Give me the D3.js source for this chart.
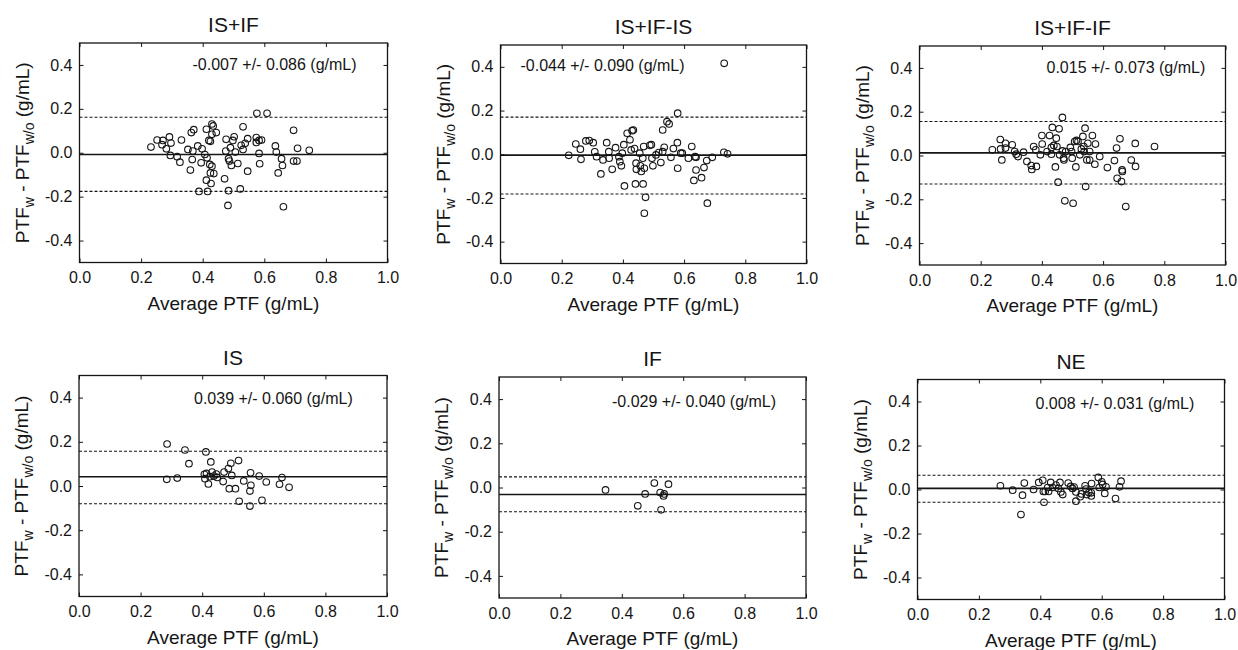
<!DOCTYPE html>
<html>
<head>
<meta charset="utf-8">
<script src="https://cdn.jsdelivr.net/npm/d3@7"></script>
<style>
  body { margin: 0; background: #fff; }
  svg { display: block; font-family: "Liberation Sans", Arial, sans-serif; }
</style>
</head>
<body>
<svg id="chart" width="1238" height="650"></svg>
<script>
// panel titles and the mean +/- sd labels printed inside each panel
const titles = ['IS+IF', 'IS+IF-IS', 'IS+IF-IF', 'IS', 'IF', 'NE']
const notes = [
    '-0.007 +/- 0.086 (g/mL)',
    '-0.044 +/- 0.090 (g/mL)',
    '0.015 +/- 0.073 (g/mL)',
    '0.039 +/- 0.060 (g/mL)',
    '-0.029 +/- 0.040 (g/mL)',
    '0.008 +/- 0.031 (g/mL)',
]

// bias line and limits of agreement, as drawn
const meanLine = [-0.008, -0.004, 0.012, 0.042, -0.032, 0.005]
const upperLimit = [0.162, 0.17, 0.155, 0.157, 0.048, 0.065]
const lowerLimit = [-0.176, -0.182, -0.13, -0.08, -0.11, -0.058]

const xTicks = [0, 0.2, 0.4, 0.6, 0.8, 1.0]
const yTicks = [-0.4, -0.2, 0, 0.2, 0.4]

// [average PTF, difference] pairs
const ptsISIF = [
    [0.232, 0.026], [0.252, 0.058], [0.271, 0.056], [0.268, 0.037], [0.282, 0.018],
    [0.292, 0.072], [0.297, 0.044], [0.295, -0.012], [0.317, -0.018], [0.326, -0.043],
    [0.331, 0.058], [0.352, 0.015], [0.36, -0.079], [0.366, -0.031], [0.363, 0.092],
    [0.371, 0.105], [0.368, 0.008], [0.384, 0.031], [0.388, -0.176], [0.395, -0.046],
    [0.398, 0.018], [0.407, -0.008], [0.412, 0.107], [0.412, -0.125], [0.416, -0.176],
    [0.42, 0.056], [0.425, 0.052], [0.414, -0.023], [0.423, -0.053], [0.427, -0.14],
    [0.43, 0.131], [0.434, 0.122], [0.43, 0.084], [0.425, -0.092], [0.436, -0.095],
    [0.43, -0.061], [0.444, 0.092], [0.471, -0.119], [0.476, 0.061], [0.475, 0.008],
    [0.482, -0.24], [0.484, -0.173], [0.484, -0.027], [0.49, 0.023], [0.487, -0.038],
    [0.493, -0.058], [0.498, 0.056], [0.502, 0.073], [0.506, 0.003], [0.514, -0.049],
    [0.522, -0.165], [0.525, 0.034], [0.531, 0.118], [0.531, 0.015], [0.538, 0.043],
    [0.546, 0.064], [0.546, -0.084], [0.576, 0.18], [0.609, 0.18], [0.574, 0.069],
    [0.574, 0.047], [0.583, 0.056], [0.591, 0.058], [0.583, -0.003], [0.585, -0.05],
    [0.636, 0.031], [0.639, 0.003], [0.645, -0.092], [0.656, -0.027], [0.659, -0.058],
    [0.662, -0.246], [0.695, 0.102], [0.695, -0.038], [0.706, -0.038], [0.708, 0.02],
    [0.746, 0.011],
]
const ptsISIFIS = [
    [0.223, -0.005], [0.246, 0.047], [0.261, 0.023], [0.263, -0.023], [0.279, 0.061],
    [0.29, 0.063], [0.303, 0.053], [0.308, 0.011], [0.314, -0.011], [0.328, -0.09],
    [0.335, -0.026], [0.347, 0.053], [0.354, 0.012], [0.355, -0.018], [0.365, -0.069],
    [0.376, 0.03], [0.387, -0.011], [0.39, -0.034], [0.395, -0.053], [0.398, 0.005],
    [0.403, 0.044], [0.405, -0.145], [0.414, 0.096], [0.423, 0.066], [0.427, 0.02],
    [0.43, 0.108], [0.434, 0.111], [0.438, 0.026], [0.441, -0.136], [0.443, -0.041],
    [0.444, -0.069], [0.455, 0.005], [0.457, -0.053], [0.46, -0.079], [0.465, -0.018],
    [0.466, -0.136], [0.468, 0.035], [0.47, -0.064], [0.474, -0.197], [0.47, -0.27],
    [0.488, 0.041], [0.493, 0.044], [0.495, -0.018], [0.498, -0.053], [0.508, -0.003],
    [0.517, 0.008], [0.524, -0.038], [0.53, 0.111], [0.53, 0.012], [0.535, 0.032],
    [0.544, 0.149], [0.551, 0.139], [0.557, -0.014], [0.565, 0.026], [0.578, 0.053],
    [0.579, 0.188], [0.579, -0.064], [0.589, 0.005], [0.594, 0.005], [0.614, -0.018],
    [0.625, 0.035], [0.632, -0.12], [0.636, -0.011], [0.639, -0.014], [0.639, -0.072],
    [0.657, -0.107], [0.665, -0.061], [0.674, -0.029], [0.676, -0.224], [0.692, -0.014],
    [0.731, 0.416], [0.73, 0.009], [0.742, 0.002],
]
const ptsISIFIF = [
    [0.238, 0.026], [0.264, 0.073], [0.265, 0.03], [0.269, -0.02], [0.281, 0.056],
    [0.281, 0.034], [0.303, 0.049], [0.311, 0.018], [0.316, 0.006], [0.322, -0.005],
    [0.34, 0.015], [0.351, -0.027], [0.365, -0.046], [0.367, -0.064], [0.373, 0.041],
    [0.38, 0.026], [0.382, -0.05], [0.395, 0.003], [0.4, 0.091], [0.401, 0.052],
    [0.417, 0.018], [0.425, 0.091], [0.431, 0.006], [0.431, 0.037], [0.434, 0.128],
    [0.439, 0.046], [0.444, -0.052], [0.447, 0.079], [0.449, 0.041], [0.453, -0.122],
    [0.456, 0.122], [0.458, 0.003], [0.467, 0.174], [0.467, 0.021], [0.471, -0.012],
    [0.472, -0.02], [0.475, -0.207], [0.478, 0.018], [0.493, 0.037], [0.497, 0.018],
    [0.499, -0.012], [0.502, -0.218], [0.507, 0.064], [0.513, 0.069], [0.511, -0.052],
    [0.518, 0.064], [0.524, 0.003], [0.529, 0.03], [0.534, 0.087], [0.537, 0.041],
    [0.538, 0.018], [0.541, 0.125], [0.543, -0.142], [0.547, -0.02], [0.55, 0.056],
    [0.556, 0.018], [0.556, -0.021], [0.565, 0.091], [0.573, -0.04], [0.575, 0.052],
    [0.589, -0.005], [0.614, -0.055], [0.637, -0.023], [0.644, 0.034], [0.646, -0.104],
    [0.655, 0.076], [0.66, -0.119], [0.662, -0.066], [0.663, -0.073], [0.674, -0.233],
    [0.692, -0.021], [0.705, 0.055], [0.706, -0.05], [0.768, 0.041],
]
const ptsIS = [
    [0.286, 0.19], [0.285, 0.03], [0.319, 0.036], [0.344, 0.163], [0.357, 0.101],
    [0.412, 0.154], [0.428, 0.109], [0.407, 0.053], [0.409, 0.033], [0.414, 0.057],
    [0.42, 0.009], [0.425, 0.042], [0.432, 0.063], [0.438, 0.045], [0.446, 0.054],
    [0.449, 0.039], [0.468, 0.02], [0.471, 0.063], [0.485, 0.079], [0.493, 0.103],
    [0.496, 0.048], [0.518, 0.115], [0.488, -0.012], [0.508, -0.012], [0.52, -0.069],
    [0.535, 0.023], [0.555, -0.023], [0.558, 0.003], [0.557, 0.06], [0.555, -0.091],
    [0.585, 0.045], [0.594, -0.065], [0.608, 0.018], [0.651, 0.008], [0.659, 0.038],
    [0.682, -0.006],
]
const ptsIF = [
    [0.347, -0.011], [0.452, -0.083], [0.476, -0.029], [0.506, 0.02], [0.525, -0.023],
    [0.536, -0.038], [0.538, -0.029], [0.528, -0.101], [0.552, 0.015],
]
const ptsNE = [
    [0.27, 0.017], [0.31, -0.003], [0.337, -0.114], [0.342, -0.026], [0.348, 0.029],
    [0.378, 0], [0.395, 0.032], [0.408, 0.042], [0.41, -0.009], [0.412, -0.058],
    [0.416, -0.009], [0.424, 0.009], [0.427, -0.009], [0.434, 0.032], [0.44, 0.009],
    [0.451, 0.02], [0.459, 0.005], [0.464, 0.032], [0.467, -0.011], [0.473, -0.023],
    [0.491, 0.029], [0.499, 0.014], [0.505, 0.005], [0.51, 0.011], [0.516, -0.011],
    [0.516, -0.053], [0.53, -0.033], [0.534, -0.02], [0.546, 0.017], [0.549, 0.002],
    [0.551, -0.023], [0.558, -0.014], [0.566, -0.029], [0.567, 0.027], [0.566, -0.015],
    [0.589, 0.055], [0.592, 0.009], [0.6, 0.035], [0.603, 0.023], [0.61, -0.018],
    [0.614, 0.012], [0.645, -0.041], [0.658, 0.012], [0.663, 0.038],
]
const points = [ptsISIF, ptsISIFIS, ptsISIFIF, ptsIS, ptsIF, ptsNE]

// plot boxes on the page, and where the note text starts inside each box
const boxes = [
    { x: 79.5, y: 43, w: 308, h: 219.5 },
    { x: 500.5, y: 45, w: 306, h: 218.5 },
    { x: 919.5, y: 46, w: 306, h: 219 },
    { x: 79, y: 375.5, w: 308, h: 221 },
    { x: 499, y: 377, w: 307, h: 221 },
    { x: 917.5, y: 379.5, w: 307, h: 220 },
]
const notePos = [[113, 27], [20, 26], [127, 27], [115, 28], [113, 30], [118, 29]]

const ink = '#151515'
const fmt = d => d.toFixed(1)
const svg = d3.select('#chart')

titles.forEach((title, i) => {
    const b = boxes[i]
    const x = d3.scaleLinear().domain([0, 1]).range([0, b.w])
    const y = d3.scaleLinear().domain([-0.5, 0.5]).range([b.h, 0])

    const g = svg.append('g').attr('transform', `translate(${b.x},${b.y})`)

    // frame
    g.append('rect')
        .attr('width', b.w)
        .attr('height', b.h)
        .attr('fill', 'none')
        .attr('stroke', ink)
        .attr('stroke-width', 1.3)

    // axes, ticks pointing inward
    g.append('g')
        .attr('transform', `translate(0,${b.h})`)
        .call(d3.axisBottom(x).tickValues(xTicks).tickSize(-4).tickPadding(9.5).tickFormat(fmt))
    g.append('g')
        .call(d3.axisLeft(y).tickValues(yTicks).tickSize(-4).tickPadding(7).tickFormat(fmt))
    g.append('g')
        .call(d3.axisTop(x).tickValues(xTicks).tickSize(-4).tickFormat(''))
    g.append('g')
        .attr('transform', `translate(${b.w},0)`)
        .call(d3.axisRight(y).tickValues(yTicks).tickSize(-4).tickFormat(''))

    g.selectAll('.domain').remove()
    g.selectAll('.tick line').attr('stroke', ink).attr('stroke-width', 1)
    g.selectAll('.tick text')
        .attr('fill', ink)
        .attr('font-size', 16)
        .attr('font-family', '"Liberation Sans", Arial, sans-serif')

    // mean and limits of agreement
    g.append('line')
        .attr('x1', 0).attr('x2', b.w)
        .attr('y1', y(meanLine[i])).attr('y2', y(meanLine[i]))
        .attr('stroke', ink)
        .attr('stroke-width', 1.6)
    g.selectAll('line.limit')
        .data([upperLimit[i], lowerLimit[i]])
        .join('line')
            .attr('class', 'limit')
            .attr('x1', 0).attr('x2', b.w)
            .attr('y1', d => y(d)).attr('y2', d => y(d))
            .attr('stroke', ink)
            .attr('stroke-width', 1.1)
            .attr('stroke-dasharray', '3,2')

    // points
    g.append('g')
        .selectAll('circle')
        .data(points[i])
        .join('circle')
            .attr('cx', d => x(d[0]))
            .attr('cy', d => y(d[1]))
            .attr('r', 3.3)
            .attr('fill', 'none')
            .attr('stroke', ink)
            .attr('stroke-width', 1.1)

    // texts
    g.append('text')
        .attr('x', notePos[i][0])
        .attr('y', notePos[i][1])
        .attr('font-size', 16)
        .attr('fill', ink)
        .text(notes[i])

    g.append('text')
        .attr('x', b.w / 2)
        .attr('y', -11)
        .attr('text-anchor', 'middle')
        .attr('font-size', 21)
        .attr('fill', ink)
        .text(title)

    g.append('text')
        .attr('x', b.w / 2)
        .attr('y', b.h + 47)
        .attr('text-anchor', 'middle')
        .attr('font-size', 19)
        .attr('fill', ink)
        .text('Average PTF (g/mL)')

    const yl = g.append('text')
        .attr('transform', `translate(-51,${b.h / 2}) rotate(-90)`)
        .attr('text-anchor', 'middle')
        .attr('font-size', 19)
        .attr('fill', ink)
    yl.append('tspan').text('PTF')
    yl.append('tspan').attr('font-size', 14).attr('dy', 5).text('w')
    yl.append('tspan').attr('dy', -5).text(' - PTF')
    yl.append('tspan').attr('font-size', 14).attr('dy', 5).text('w/o')
    yl.append('tspan').attr('dy', -5).text(' (g/mL)')
})
</script>
</body>
</html>
